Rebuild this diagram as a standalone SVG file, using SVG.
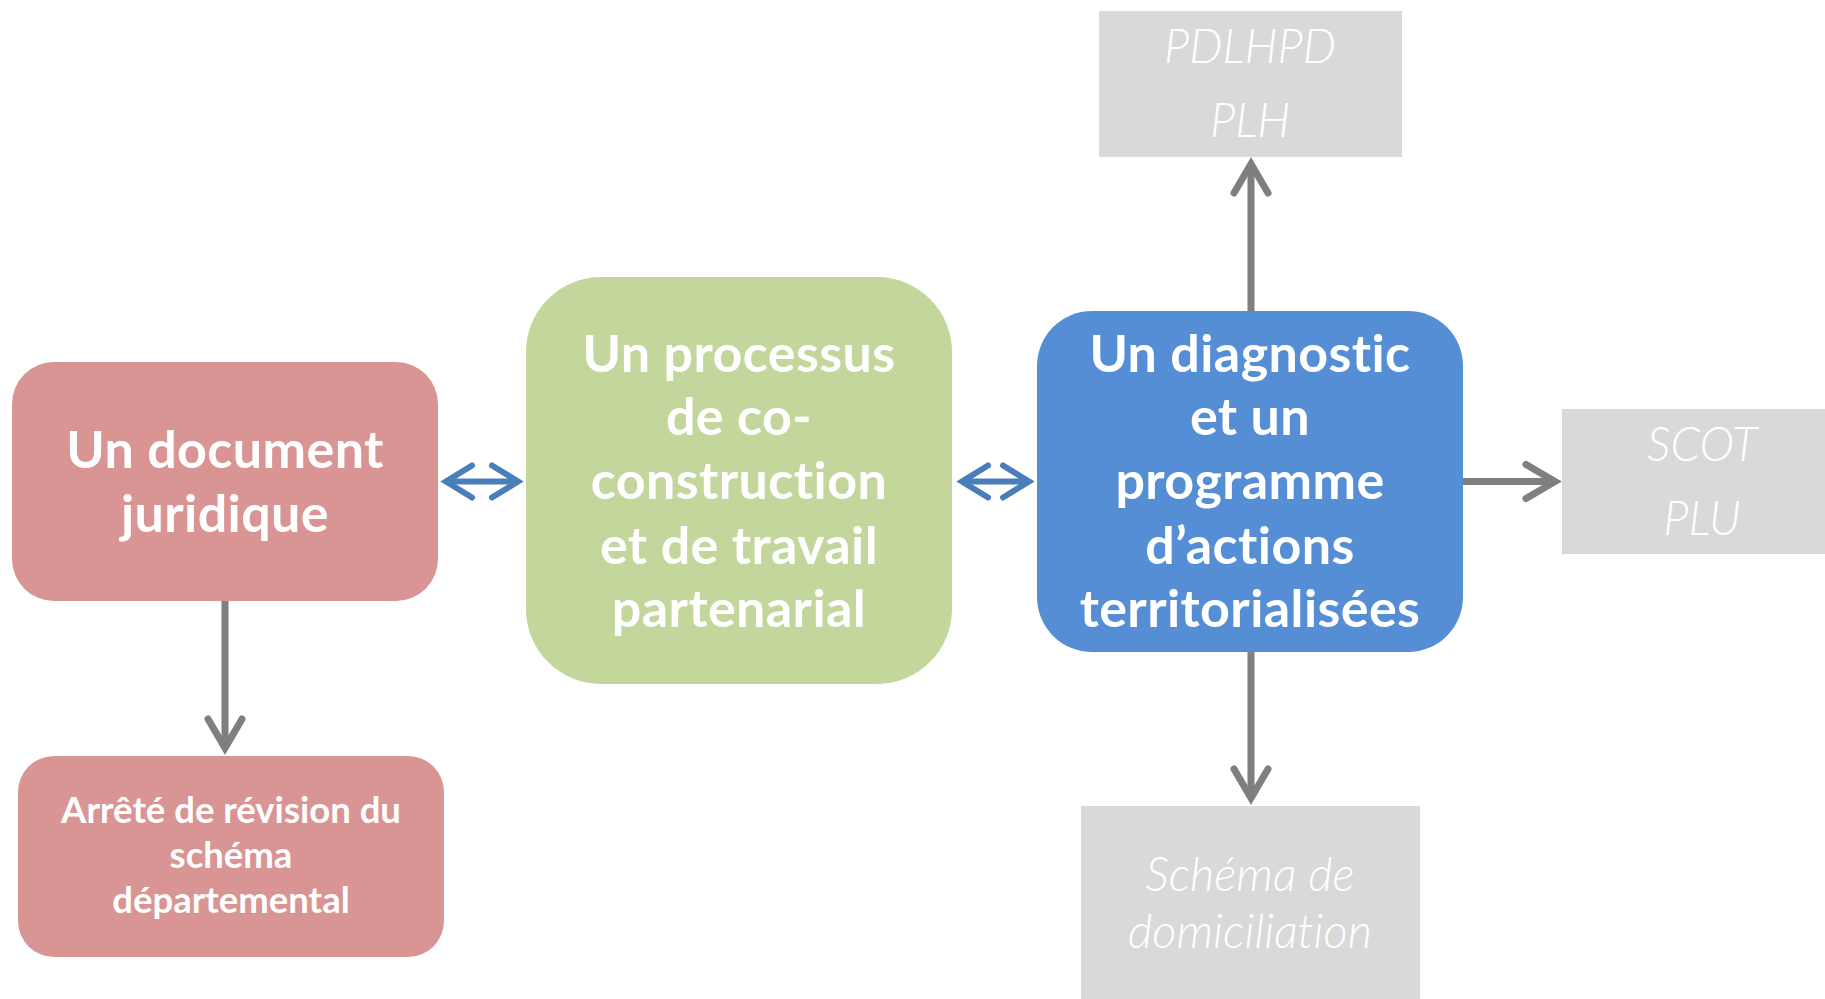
<svg xmlns="http://www.w3.org/2000/svg" width="1825" height="999" viewBox="0 0 1825 999">
<style>
text{font-variant-ligatures:none;font-feature-settings:"liga" 0}
.bold{font-family:Lato,"Open Sans","Liberation Sans",sans-serif;font-weight:700;fill:#ffffff;text-anchor:middle}
.big{font-size:52px;letter-spacing:0.4px}
.small{font-size:36.5px}
.lite{font-family:Lato,"Open Sans","Liberation Sans",sans-serif;font-weight:300;font-style:italic;fill:#ffffff;text-anchor:middle;font-size:47px}
.gline{stroke:#7f7f7f;stroke-width:7;fill:none;marker-end:url(#gh)}
.bline{stroke:#4a7ebb;stroke-width:6;fill:none;marker-start:url(#bh);marker-end:url(#bh)}
</style>
<defs>
<marker id="gh" markerUnits="userSpaceOnUse" orient="auto" refX="0" refY="0" markerWidth="60" markerHeight="60" viewBox="-40 -30 60 60" overflow="visible">
<path d="M-28,-17 L1,0 L-28,17" fill="none" stroke="#7f7f7f" stroke-width="7" stroke-linecap="round" stroke-linejoin="miter"/>
</marker>
<marker id="bh" markerUnits="userSpaceOnUse" orient="auto-start-reverse" refX="0" refY="0" markerWidth="60" markerHeight="60" viewBox="-40 -30 60 60" overflow="visible">
<path d="M-25,-16 L1,0 L-25,16" fill="none" stroke="#4a7ebb" stroke-width="6" stroke-linecap="round" stroke-linejoin="miter"/>
</marker>
</defs>
<rect width="1825" height="999" fill="#ffffff"/>
<g id="connectors">
<line class="bline" x1="447" y1="481.5" x2="517" y2="481.5"/>
<line class="bline" x1="963" y1="481.5" x2="1028" y2="481.5"/>
<line class="gline" x1="225" y1="601" x2="225" y2="747"/>
<line class="gline" x1="1251" y1="311" x2="1251" y2="165"/>
<line class="gline" x1="1251" y1="652" x2="1251" y2="797"/>
<line class="gline" x1="1463" y1="481.5" x2="1554" y2="481.5"/>
</g>
<g id="node-document">
<rect x="12" y="362" width="426" height="239" rx="42" fill="#d99594"/>
<text class="bold big" x="225" y="468">Un document</text>
<text class="bold big" x="225" y="532">juridique</text>
</g>
<g id="node-processus">
<rect x="526" y="277" width="426" height="407" rx="75" fill="#c3d69b"/>
<text class="bold big" x="739" y="372">Un processus</text>
<text class="bold big" x="739" y="435">de co-</text>
<text class="bold big" x="739" y="499">construction</text>
<text class="bold big" x="739" y="564">et de travail</text>
<text class="bold big" x="739" y="627">partenarial</text>
</g>
<g id="node-diagnostic">
<rect x="1037" y="311" width="426" height="341" rx="55" fill="#558ed5"/>
<text class="bold big" x="1250" y="372">Un diagnostic</text>
<text class="bold big" x="1250" y="435">et un</text>
<text class="bold big" x="1250" y="499">programme</text>
<text class="bold big" x="1250" y="564">d’actions</text>
<text class="bold big" x="1250" y="627">territorialisées</text>
</g>
<g id="node-arrete">
<rect x="18" y="756" width="426" height="201" rx="36" fill="#d99594"/>
<text class="bold small" x="231" y="823">Arrêté de révision du</text>
<text class="bold small" x="231" y="868">schéma</text>
<text class="bold small" x="231" y="913">départemental</text>
</g>
<g id="node-pdlhpd">
<rect x="1099" y="11" width="303" height="146" fill="#d9d9d9"/>
<text class="lite" x="1250" y="63">PDLHPD</text>
<text class="lite" x="1250" y="137">PLH</text>
</g>
<g id="node-scot">
<rect x="1562" y="409" width="290" height="145" fill="#d9d9d9"/>
<text class="lite" x="1702" y="461">SCOT</text>
<text class="lite" x="1702" y="535">PLU</text>
</g>
<g id="node-schema">
<rect x="1081" y="806" width="339" height="200" fill="#d9d9d9"/>
<text class="lite" x="1250" y="891">Schéma de</text>
<text class="lite" x="1250" y="948">domiciliation</text>
</g>
</svg>
